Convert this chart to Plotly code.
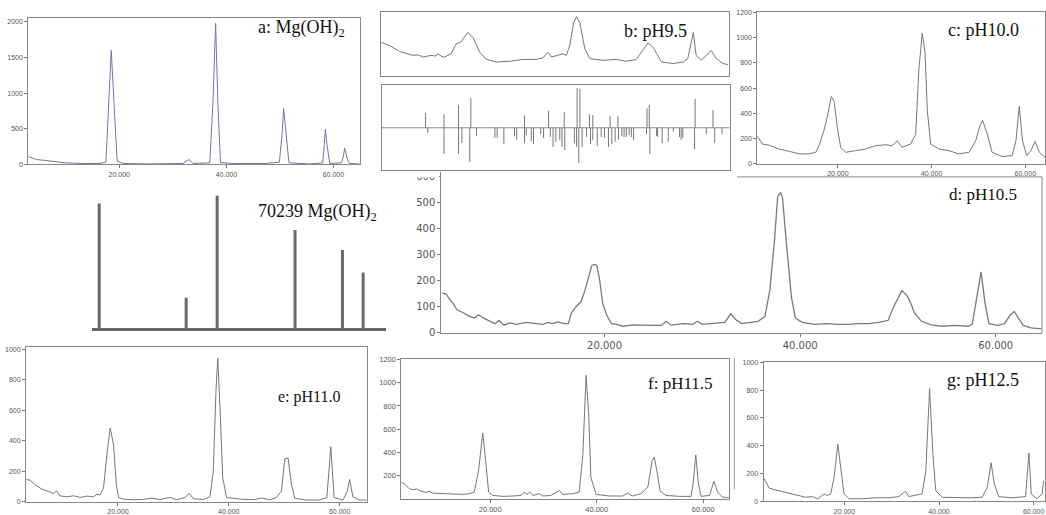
import plotly.graph_objects as go

W, H = 1046, 515

# ---------------- data (2-theta in degrees, intensity in counts) ----------------
a_two_theta = [3.0, 3.6, 4.5, 5.8, 7.6, 10.1, 13.2, 16.4, 17.5, 18.1, 18.5, 19.0, 19.6, 20.7, 25.7,
               31.9, 33.0, 33.8, 36.9, 37.5, 38.0, 38.4, 38.9, 41.2, 47.5, 49.9, 50.4, 50.7, 51.2,
               51.7, 55.5, 58.0, 58.3, 58.5, 58.8, 59.3, 61.5, 61.8, 62.1, 62.6, 63.0, 64.9]
a_counts = [106, 92, 65, 55, 37, 18, 9, 9, 28, 878, 1600, 878, 46, 9, 3,
            9, 65, 9, 18, 878, 1980, 878, 23, 9, 9, 28, 416, 780, 416,
            18, 3, 18, 277, 490, 277, 9, 18, 92, 226, 69, 9, 3]

b_two_theta = [3.1, 4.6, 6.4, 8.8, 9.7, 10.6, 12.0, 12.9, 13.2, 13.8,
               14.4, 15.6, 16.5, 17.4, 18.6, 19.5, 20.7, 21.9, 23.7, 26.1,
               28.4, 30.8, 32.0, 32.9, 33.5, 34.7, 35.6, 36.2, 36.8, 37.5,
               38.0, 38.6, 39.5, 40.4, 42.7, 45.1, 46.9, 48.7, 49.6, 50.8,
               51.7, 53.2, 55.3, 57.1, 57.9, 58.9, 59.4, 60.3, 61.2, 62.1,
               63.0, 64.2, 65.1]
b_counts = [52.3, 47.2, 37.9, 31.8, 32.8, 29.2, 31.8, 30.8, 34.4, 30.8,
            29.2, 34.4, 49.7, 53.3, 67.7, 60.0, 36.9, 25.6, 21.5, 22.6,
            25.6, 25.6, 27.7, 36.9, 29.2, 31.8, 34.4, 31.8, 47.2, 83.1,
            92.3, 83.1, 42.1, 26.7, 24.1, 25.6, 22.6, 25.6, 36.9, 51.3,
            44.6, 21.5, 19.0, 21.5, 26.7, 67.7, 31.8, 24.1, 31.8, 39.5,
            26.7, 19.0, 17.4]

# reference line pattern under b (up = one card, down = other card)
b_up_pos = [10.9, 14.2, 16.8, 19.0, 28.6, 32.9, 35.7, 38.0, 38.5, 40.2, 40.8, 43.9, 45.3,
            50.5, 50.9, 59.1, 62.3]
b_up_int = [37, 34, 57, 75, 31, 43, 39, 100, 98, 34, 32, 30, 30, 49, 57, 73, 44]
b_down_pos = [11.3, 14.2, 16.8, 17.4, 18.8, 20.0, 23.3, 23.7, 24.9, 26.8,
              27.2, 28.6, 28.9, 29.8, 30.2, 31.5, 32.0, 33.2, 33.7, 34.2,
              34.9, 35.3, 35.8, 37.5, 37.9, 38.3, 38.9, 39.7, 40.4, 40.8,
              41.6, 42.3, 42.9, 43.6, 44.2, 44.8, 45.4, 46.0, 46.4, 46.8,
              47.3, 47.7, 48.1, 50.4, 51.0, 52.2, 52.4, 53.2, 54.3, 55.2,
              56.3, 56.6, 56.9, 59.0, 61.1, 62.6, 63.9]
b_down_int = [-13, -66, -66, -38, -86, -21, -25, -25, -41, -21,
              -30, -38, -19, -34, -41, -16, -26, -23, -48, -35,
              -31, -48, -56, -39, -48, -89, -48, -23, -41, -31,
              -46, -23, -25, -48, -41, -35, -30, -21, -23, -23,
              -19, -23, -31, -16, -66, -21, -23, -39, -35, -9,
              -23, -30, -25, -54, -16, -38, -16]

c_two_theta = [2.8, 3.9, 5.3, 7.4, 9.6, 11.7, 13.8, 15.3, 16.1, 17.0,
               17.7, 18.6, 19.2, 19.9, 20.6, 21.6, 23.8, 25.9, 28.0, 30.2,
               31.6, 32.7, 33.7, 35.5, 36.6, 37.3, 38.0, 38.6, 39.1, 39.8,
               41.6, 43.7, 45.8, 48.0, 49.4, 50.4, 50.9, 51.9, 52.9, 55.1,
               57.2, 58.0, 58.7, 59.4, 60.3, 61.2, 62.1, 63.0, 64.2]
c_counts = [221, 156, 148, 117, 99, 78, 78, 91, 156, 260,
            365, 534, 495, 286, 130, 91, 104, 117, 143, 151,
            143, 182, 130, 156, 234, 755, 1036, 885, 417, 156,
            117, 104, 78, 91, 182, 312, 344, 234, 91, 57,
            65, 182, 456, 182, 65, 104, 177, 91, 52]

ref_pos = [18.6, 32.9, 38.0, 50.8, 58.6, 62.0]
ref_int = [94, 23, 100, 74, 59, 42]

d_two_theta = [3.4, 3.8, 4.2, 4.5, 4.9, 5.5, 6.2, 6.7, 7.1, 7.6,
               8.3, 8.8, 9.2, 9.7, 10.3, 11.0, 12.0, 13.0, 13.7, 14.2,
               14.7, 15.2, 15.9, 16.3, 16.6, 17.1, 17.6, 18.0, 18.3, 18.7,
               19.0, 19.2, 19.5, 19.8, 20.2, 20.7, 21.2, 21.9, 22.9, 23.9,
               24.9, 25.8, 26.3, 26.8, 28.0, 29.0, 29.5, 30.0, 31.1, 32.3,
               32.9, 33.4, 34.0, 34.7, 35.7, 36.4, 36.9, 37.4, 37.7, 38.0,
               38.2, 38.6, 39.1, 39.5, 40.2, 41.5, 42.7, 43.9, 44.9, 46.0,
               47.0, 48.0, 49.0, 49.5, 50.0, 50.4, 50.9, 51.3, 51.7, 52.4,
               53.4, 54.5, 55.8, 57.2, 57.6, 58.1, 58.5, 58.9, 59.3, 60.2,
               60.9, 61.5, 61.9, 62.3, 62.8, 63.6, 64.7]
d_counts = [152, 149, 126, 114, 88, 78, 63, 57, 69, 57,
            44, 35, 48, 29, 38, 32, 40, 35, 32, 40,
            35, 42, 35, 35, 76, 101, 120, 164, 202, 259,
            263, 259, 202, 114, 69, 35, 32, 25, 30, 28,
            28, 28, 44, 29, 35, 32, 44, 32, 35, 40,
            73, 51, 35, 38, 44, 63, 164, 366, 524, 540,
            518, 341, 139, 57, 40, 32, 35, 32, 32, 35,
            35, 40, 48, 95, 133, 162, 145, 114, 76, 44,
            30, 25, 28, 25, 32, 139, 234, 114, 35, 28,
            35, 69, 82, 57, 28, 19, 15]

e_two_theta = [3.5, 4.2, 5.1, 6.3, 7.5, 8.4, 8.9, 9.5, 10.8, 12.0,
               13.2, 14.4, 15.6, 16.2, 16.8, 17.4, 18.0, 18.6, 19.2, 19.7,
               20.1, 21.0, 22.8, 24.6, 26.1, 27.6, 29.4, 30.6, 32.1, 32.9,
               33.6, 35.4, 36.6, 37.2, 37.7, 38.0, 38.4, 38.9, 39.6, 42.0,
               44.4, 45.9, 47.4, 48.6, 49.5, 50.1, 50.7, 51.3, 51.9, 54.0,
               56.4, 57.7, 58.4, 59.0, 60.6, 61.4, 61.8, 62.4, 63.6, 64.8]
e_counts = [146, 140, 110, 82, 67, 54, 71, 39, 32, 39,
            28, 37, 32, 49, 45, 92, 307, 484, 372, 114,
            28, 17, 13, 15, 24, 15, 28, 13, 28, 54,
            19, 15, 32, 200, 738, 942, 630, 157, 28, 17,
            13, 24, 13, 28, 71, 282, 286, 114, 22, 11,
            11, 28, 361, 28, 11, 71, 146, 32, 11, 11]

f_two_theta = [3.3, 3.9, 4.8, 5.5, 6.1, 7.0, 8.0, 8.5, 9.2, 11.1,
               13.0, 14.8, 16.1, 17.0, 17.8, 18.6, 19.2, 19.7, 20.5, 22.4,
               24.2, 25.8, 26.4, 26.9, 27.4, 28.0, 29.2, 29.9, 31.4, 33.0,
               33.6, 35.5, 36.7, 37.4, 38.0, 38.5, 38.9, 39.9, 42.4, 44.9,
               45.8, 46.7, 48.3, 49.6, 50.4, 50.8, 51.3, 51.9, 53.0, 55.5,
               57.7, 58.1, 58.6, 59.1, 59.6, 61.2, 62.0, 62.7, 63.6, 64.8]
f_counts = [142, 128, 85, 77, 85, 65, 54, 65, 48, 43,
            37, 37, 43, 57, 241, 567, 298, 57, 28, 20,
            23, 28, 57, 37, 57, 28, 43, 23, 28, 71,
            37, 43, 57, 383, 1064, 723, 184, 37, 23, 23,
            48, 23, 43, 99, 326, 360, 241, 65, 28, 20,
            20, 128, 377, 128, 20, 28, 150, 57, 14, 9]

g_two_theta = [2.9, 3.4, 4.1, 5.5, 7.6, 9.7, 11.8, 13.2, 14.3, 15.0,
               15.7, 16.4, 17.1, 17.8, 18.6, 19.3, 19.9, 21.0, 23.8, 26.6,
               29.4, 31.5, 32.9, 33.6, 35.0, 36.4, 37.2, 38.0, 38.7, 39.3,
               40.7, 43.5, 46.3, 49.1, 50.2, 51.0, 51.7, 52.6, 55.4, 58.3,
               59.0, 59.5, 60.7, 61.8, 62.1]
g_counts = [170, 134, 94, 80, 64, 47, 28, 33, 17, 33,
            52, 40, 52, 170, 410, 217, 52, 17, 17, 24,
            24, 33, 71, 33, 40, 52, 217, 811, 335, 75,
            28, 24, 24, 28, 99, 276, 123, 33, 24, 33,
            347, 52, 17, 52, 146]

x_ticks = [20, 40, 60]
a_yticks = [0, 500, 1000, 1500, 2000]
c_yticks = [0, 200, 400, 600, 800, 1000, 1200]
d_yticks = [0, 100, 200, 300, 400, 500, 600]
e_yticks = [0, 200, 400, 600, 800, 1000]
f_yticks = [200, 400, 600, 800, 1000, 1200]
g_yticks = [0, 200, 400, 600, 800, 1000]

labels = {
    "a": "a: Mg(OH)<sub>2</sub>", "b": "b: pH9.5", "c": "c: pH10.0", "ref": "70239 Mg(OH)<sub>2</sub>",
    "d": "d: pH10.5", "e": "e: pH11.0", "f": "f: pH11.5", "g": "g: pH12.5",
}

# ---------------- figure ----------------
fig = go.Figure()
layout = {}
small_font = dict(family="Liberation Sans, Arial, sans-serif", size=7, color="#555")


def axes(n, box, xr, yr, xticks=None, yticks=None, font=small_font,
         axis_col="#888", mirror=True, show_x=True, show_y=True, xlw=1):
    l, r, t, b = box
    sx = "" if n == 1 else str(n)
    layout["xaxis" + sx] = dict(
        domain=[l / W, min(r / W, 1.0)], range=xr, anchor="y" + sx, showgrid=False,
        zeroline=False, showline=show_x, linecolor=axis_col, linewidth=xlw, mirror=mirror,
        ticks="outside" if xticks else "", ticklen=3, tickcolor="#777",
        tickvals=xticks if xticks else [], tickformat=".3f",
        showticklabels=bool(xticks), tickfont=font, fixedrange=True)
    layout["yaxis" + sx] = dict(
        domain=[1 - b / H, 1 - t / H], range=yr, anchor="x" + sx, showgrid=False,
        zeroline=False, showline=show_y, linecolor=axis_col, linewidth=1, mirror=mirror,
        ticks="outside" if yticks else "", ticklen=3, tickcolor="#777",
        tickvals=yticks if yticks else [], showticklabels=bool(yticks),
        tickfont=font, fixedrange=True)


def curve(n, x, y, color="#777", width=1):
    sx = "" if n == 1 else str(n)
    fig.add_trace(go.Scatter(x=x, y=y, xaxis="x" + sx, yaxis="y" + sx, mode="lines",
                             line=dict(color=color, width=width), hoverinfo="skip"))


def sticks(n, pos, hts, color="#777", width=1):
    xs, ys = [], []
    for p, h in zip(pos, hts):
        xs += [p, p, None]
        ys += [0, h, None]
    curve(n, xs, ys, color, width)


# a
axes(1, (28.3, 360, 15.7, 164), [3.0, 64.9], [0, 2050], x_ticks, a_yticks)
curve(1, a_two_theta, a_counts, color="#7474a6", width=1)
# b top
axes(2, (381, 729.3, 9, 74), [3.0, 65.2], [0, 100])
curve(2, b_two_theta, b_counts, color="#777", width=1)
# b bottom (sticks)
axes(3, (382.3, 730.5, 83.3, 169.5), [3.1, 65.3], [-105, 108])
sticks(3, b_up_pos, b_up_int)
sticks(3, b_down_pos, b_down_int)
curve(3, [3.1, 65.3], [0, 0], color="#888", width=1)
# c
axes(4, (758, 1046, 9, 163.6), [2.8, 64.2], [0, 1206], x_ticks, c_yticks)
curve(4, c_two_theta, c_counts, color="#777", width=1)
# reference card
axes(5, (92.3, 386, 196, 331), [17.45, 65.7], [0, 100], axis_col="#666",
     mirror=False, show_y=False, xlw=3)
sticks(5, ref_pos, ref_int, color="#6a6a6a", width=3)
# d
d_font = dict(family="DejaVu Sans, sans-serif", size=10, color="#555")
axes(6, (441.7, 1042.7, 172, 335.6), [3.3, 64.7], [0, 618.5], x_ticks, d_yticks,
     font=d_font, axis_col="#888", mirror=False)
curve(6, d_two_theta, d_counts, color="#7a7a7a", width=1.3)
# e
axes(7, (26, 367.7, 350.3, 507.6), [3.4, 65.0], [0, 1013], x_ticks, e_yticks)
curve(7, e_two_theta, e_counts, color="#777", width=1)
# f
axes(8, (401.7, 730, 362, 504.5), [3.3, 64.9], [0, 1208], x_ticks, f_yticks,
     font=dict(family="Liberation Sans, Arial, sans-serif", size=7.5, color="#555"))
curve(8, f_two_theta, f_counts, color="#777", width=1)
# g
axes(9, (764.3, 1047, 365, 507), [2.9, 62.4], [0, 1005], x_ticks, g_yticks)
curve(9, g_two_theta, g_counts, color="#777", width=1)


def px_line(x0, y0, x1, y1, color="#888", width=1):
    return dict(type="line", xref="paper", yref="paper", x0=x0 / W, x1=x1 / W,
                y0=1 - y0 / H, y1=1 - y1 / H, line=dict(color=color, width=width), layer="above")


shapes = [
    px_line(737.7, 177, 1043, 177),
    px_line(1043, 177, 1043, 336),
    px_line(735, 361, 735, 495, color="#999"),
    dict(type="rect", xref="paper", yref="paper", x0=400 / W, x1=439.5 / W,
         y0=1 - 177.5 / H, y1=1 - 171 / H, fillcolor="white", line=dict(width=0), layer="above"),
]

label_pos = {"a": (301.5, 25.5, 18), "b": (656, 28.5, 18), "c": (984, 27.5, 18),
             "ref": (318, 213, 18), "d": (984, 194.5, 17), "e": (310, 401.5, 16),
             "f": (681, 387, 17), "g": (984, 383.5, 18)}
annotations = []
for k, (cx, cy, fs) in label_pos.items():
    annotations.append(dict(text=labels[k], x=cx / W, y=1 - cy / H, xref="paper", yref="paper",
                            xanchor="center", yanchor="middle", showarrow=False,
                            font=dict(family="Liberation Serif, Times New Roman, serif",
                                      size=fs, color="#111")))

fig.update_layout(width=W, height=H, margin=dict(l=0, r=0, t=0, b=0),
                  paper_bgcolor="white", plot_bgcolor="white", showlegend=False,
                  shapes=shapes, annotations=annotations, **layout)

fig.write_html("out.html",
               config={"displayModeBar": False, "staticPlot": True},
               post_script="document.body.style.margin='0';document.body.style.padding='0';"
                           "document.body.style.overflow='hidden';")
